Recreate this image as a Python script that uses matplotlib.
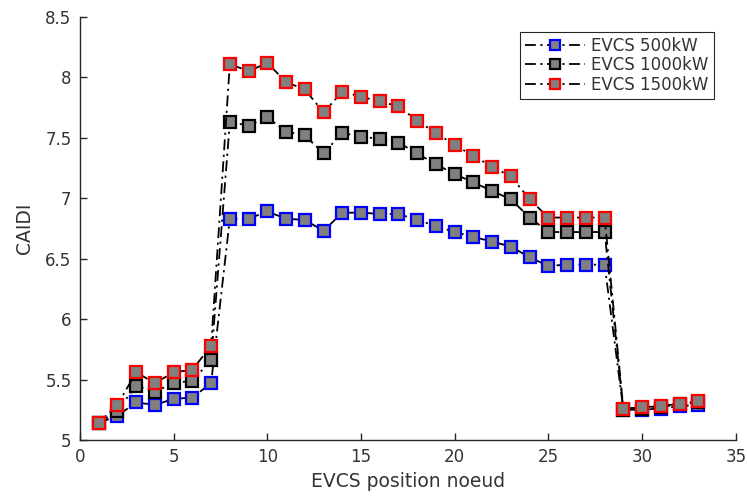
import matplotlib
matplotlib.use("Agg")
import matplotlib.pyplot as plt

plt.rcParams['font.family'] = ['DejaVu Sans']

x = list(range(1, 34))
evcs500 = [5.14, 5.20, 5.31, 5.29, 5.34, 5.35, 5.47, 6.83, 6.83, 6.89, 6.83, 6.82, 6.73,
           6.88, 6.88, 6.87, 6.87, 6.82, 6.77, 6.72, 6.68, 6.64, 6.60, 6.51, 6.44, 6.45,
           6.45, 6.45, 5.25, 5.25, 5.26, 5.28, 5.29]
evcs1000 = [5.14, 5.24, 5.45, 5.40, 5.47, 5.49, 5.66, 7.63, 7.60, 7.67, 7.55, 7.52, 7.37,
            7.54, 7.51, 7.49, 7.46, 7.37, 7.28, 7.20, 7.13, 7.06, 6.99, 6.84, 6.72, 6.72,
            6.72, 6.72, 5.25, 5.26, 5.27, 5.30, 5.31]
evcs1500 = [5.14, 5.29, 5.56, 5.47, 5.56, 5.58, 5.78, 8.11, 8.05, 8.12, 7.96, 7.90, 7.71,
            7.88, 7.84, 7.80, 7.76, 7.64, 7.54, 7.44, 7.35, 7.26, 7.18, 6.99, 6.84, 6.84,
            6.84, 6.84, 5.26, 5.27, 5.28, 5.30, 5.32]
labels = ['EVCS 500kW', 'EVCS 1000kW', 'EVCS 1500kW']
edge_colors = ['#0000ff', '#000000', '#ff0000']
txt = '#333333'

fig = plt.figure(figsize=(7.47, 4.96), dpi=100)
ax = fig.add_axes([0.107, 0.113, 0.878, 0.853])

for ys, lab, ec in zip([evcs500, evcs1000, evcs1500], labels, edge_colors):
    ax.plot(x, ys, linestyle=(0, (6, 2.5, 1.2, 2.5)), color='black', linewidth=1.3,
            marker='s', markersize=9, markerfacecolor='#808080',
            markeredgecolor=ec, markeredgewidth=1.6, label=lab)

ax.set_xlim(0, 35)
ax.set_ylim(5, 8.5)
ax.set_xticks([0, 5, 10, 15, 20, 25, 30, 35])
ax.set_yticks([5, 5.5, 6, 6.5, 7, 7.5, 8, 8.5])
ax.set_yticklabels(['5', '5.5', '6', '6.5', '7', '7.5', '8', '8.5'])
ax.spines['top'].set_visible(False)
ax.spines['right'].set_visible(False)
for s in ['left', 'bottom']:
    ax.spines[s].set_color('#262626')
    ax.spines[s].set_linewidth(1.0)
ax.tick_params(direction='in', length=5, labelsize=12, colors='#262626',
               labelcolor=txt, width=1.0, pad=6)
ax.set_xlabel('EVCS position noeud', fontsize=13.5, color=txt, labelpad=4)
ax.set_ylabel('CAIDI', fontsize=13.5, color=txt, labelpad=8)

leg = ax.legend(loc='upper right', bbox_to_anchor=(0.979, 0.985), fontsize=12,
                frameon=True, fancybox=False, edgecolor='#262626', framealpha=1,
                handlelength=3.6, handletextpad=0.4, borderpad=0.3, labelspacing=0.1,
                markerscale=0.85)
leg.get_frame().set_linewidth(0.8)
for t in leg.get_texts():
    t.set_color(txt)

fig.savefig('out.png', dpi=100)
